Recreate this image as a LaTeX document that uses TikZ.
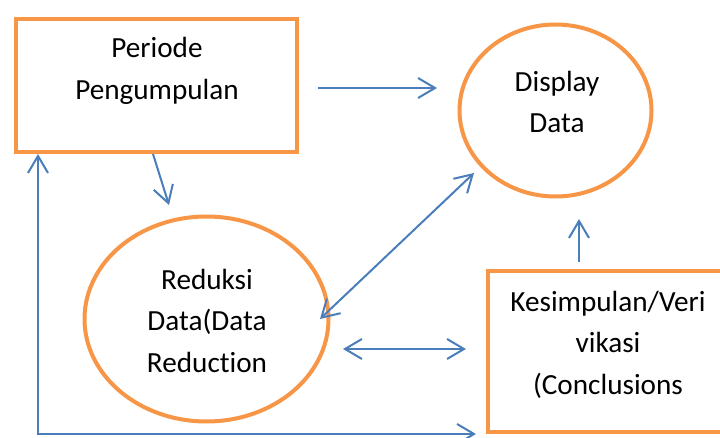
\documentclass[tikz,border=0pt]{standalone}
\usepackage{fontspec}
\setmainfont{Carlito}[Ligatures={NoCommon,NoContextual}]
\usetikzlibrary{arrows.meta,shapes.geometric}
\definecolor{borange}{HTML}{F79646}
\definecolor{lblue}{HTML}{4A7EBB}
\begin{document}
\begin{tikzpicture}[x=1pt,y=-1pt,
  boxshape/.style={draw=borange,line width=4pt,rectangle,inner sep=0pt,fill=white},
  ovalshape/.style={draw=borange,line width=4pt,ellipse,inner sep=0pt,fill=white},
  txt/.style={align=center,font=\fontsize{29.2}{41.5}\selectfont,inner sep=0pt},
  arr/.style={draw=lblue,line width=2pt,-{Straight Barb[length=17pt,width=20pt,line width=2pt]}},
  darr/.style={draw=lblue,line width=2pt,{Straight Barb[length=17pt,width=20pt,line width=2pt]}-{Straight Barb[length=17pt,width=20pt,line width=2pt]}}
]
\useasboundingbox (0,0) rectangle (720,438);
% shapes
\node[boxshape,minimum width=281pt,minimum height=133pt] (b1) at (156.5,85.5) {};
\node[boxshape,minimum width=252pt,minimum height=161pt] (b2) at (614,351.5) {};
\node[ovalshape,minimum width=192pt,minimum height=172pt] (d) at (555.5,110.5) {};
\node[ovalshape,minimum width=244pt,minimum height=205pt] (r) at (206.5,319) {};
% texts
\node[txt] (t1) at (157,71) {Periode\\Pengumpulan};
\node[txt] (t2) at (557,102) {Display\\Data};
\node[txt] (t3) at (207,320.5) {Reduksi\\Data(Data\\Reduction};
\node[txt] (t4) at (608,344.5) {Kesimpulan/Veri\\vikasi\\(Conclusions};
% connector end points
\coordinate (p1) at (318,88);
\coordinate (p2) at (437,88);
\coordinate (p3) at (153,154);
\coordinate (p4) at (169,205);
\coordinate (p5) at (320,319);
\coordinate (p6) at (474,173);
\coordinate (p7) at (343,349);
\coordinate (p8) at (466,349);
\coordinate (p9) at (579,262);
\coordinate (p10) at (579,219);
\coordinate (p11) at (38,154);
\coordinate (p12) at (38,434);
\coordinate (p13) at (476,434);
% connectors
\draw[arr] (p1) -- (p2);
\draw[arr] (p3) -- (p4);
\draw[darr] (p5) -- (p6);
\draw[darr] (p7) -- (p8);
\draw[arr] (p9) -- (p10);
\draw[darr] (p11) -- (p12) -- (p13);
\end{tikzpicture}
\end{document}
